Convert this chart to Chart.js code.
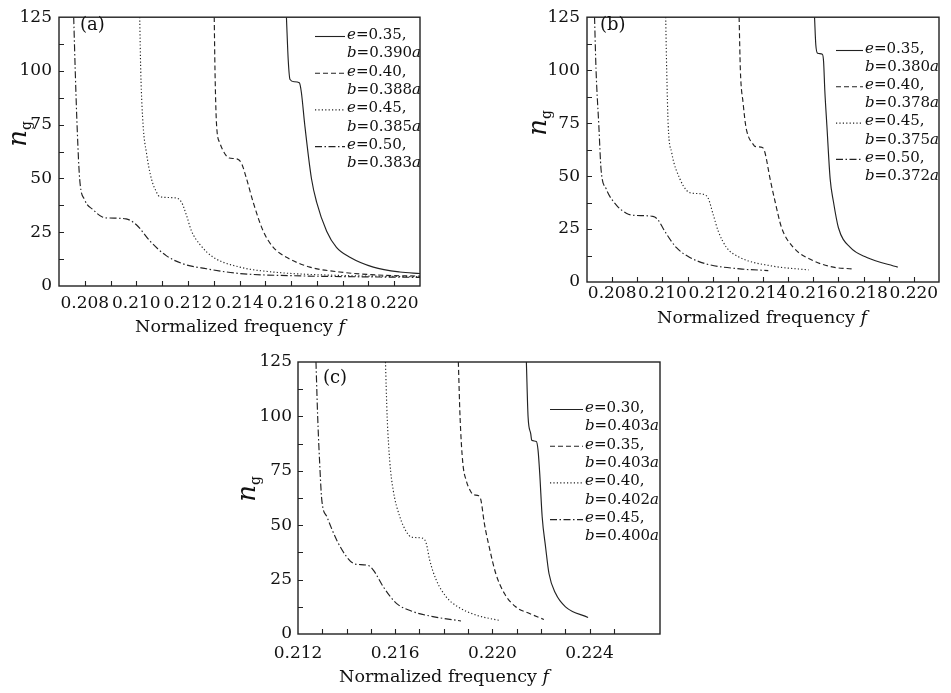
<!DOCTYPE html>
<html>
<head>
<meta charset="utf-8">
<script src="https://cdn.jsdelivr.net/npm/chart.js@4.4.0/dist/chart.umd.min.js"></script>
<style>
body { margin: 0; background: #fff; }
canvas { position: absolute; }
</style>
</head>
<body>
<canvas id="chartA" width="440" height="340" style="left:0;top:0"></canvas>
<canvas id="chartB" width="471" height="340" style="left:480px;top:0"></canvas>
<canvas id="chartC" width="480" height="353" style="left:220px;top:340px"></canvas>
<script>
// ---- panel (a) ----
var eA = ['0.35', '0.40', '0.45', '0.50'];
var bA = ['0.390', '0.388', '0.385', '0.383'];
var fA1 = [0.21582, 0.21589, 0.21596, 0.21612, 0.21632, 0.21640, 0.21653, 0.21679, 0.21699, 0.21738, 0.21776, 0.21828, 0.21919, 0.22022, 0.2210];
var ngA1 = [125, 105, 96, 95, 94.5, 90, 75, 50, 39, 25.5, 18, 13.4, 8.8, 6.5, 5.8];
var fA2 = [0.21302, 0.21305, 0.21311, 0.21324, 0.21349, 0.21360, 0.21392, 0.21408, 0.21427, 0.21453, 0.21492, 0.21531, 0.21582, 0.21673, 0.21789, 0.21957, 0.2210];
var ngA2 = [125, 100, 75, 66.5, 60.5, 59.5, 59, 57, 50, 39, 25.5, 18, 13.4, 8.8, 6.5, 5, 4.6];
var fA3 = [0.21013, 0.21017, 0.21026, 0.21039, 0.21058, 0.21078, 0.21091, 0.21150, 0.21175, 0.21194, 0.21214, 0.21246, 0.21298, 0.21401, 0.2153, 0.21763, 0.2210];
var ngA3 = [125, 100, 75, 62, 50, 43.7, 41.5, 41, 39, 33, 25.5, 19.4, 13.4, 8.8, 6.5, 5, 4.3];
var fA4 = [0.20757, 0.20763, 0.2077, 0.2078, 0.2080, 0.20832, 0.20870, 0.20897, 0.20960, 0.2100, 0.21052, 0.21117, 0.21181, 0.21272, 0.21401, 0.2160, 0.2185, 0.2210];
var ngA4 = [125, 100, 75, 50, 40, 35.5, 32, 31.6, 31.2, 28.5, 21, 14, 10.3, 8, 5.8, 4.8, 4.3, 4];

// ---- panel (b) ----
var eB = ['0.35', '0.40', '0.45', '0.50'];
var bB = ['0.380', '0.378', '0.375', '0.372'];
var fB1 = [0.21605, 0.21610, 0.21617, 0.21636, 0.21641, 0.21646, 0.21654, 0.21667, 0.2168, 0.2170, 0.21747, 0.21813, 0.21936];
var ngB1 = [125, 112, 108, 107.5, 104, 90, 74, 48.8, 38, 25.6, 16.3, 11.6, 7];
var fB2 = [0.21305, 0.2131, 0.21321, 0.21331, 0.21341, 0.21361, 0.21368, 0.21398, 0.21408, 0.21428, 0.21448, 0.21474, 0.21521, 0.21601, 0.2168, 0.21753];
var ngB2 = [125, 100, 84.4, 74, 69, 65, 64, 63.5, 61, 48.8, 38, 25.6, 16.3, 10, 7, 6.2];
var fB3 = [0.21013, 0.21017, 0.21023, 0.21037, 0.21069, 0.21095, 0.21115, 0.21159, 0.21182, 0.21202, 0.21222, 0.21255, 0.21308, 0.21428, 0.21581];
var ngB3 = [125, 100, 74, 61, 48.8, 43.4, 42, 41.5, 39.5, 31.8, 24, 16.3, 11.6, 7.7, 5.7];
var fB4 = [0.2073, 0.20736, 0.20747, 0.20756, 0.20776, 0.20816, 0.20856, 0.20882, 0.20962, 0.20982, 0.21009, 0.21055, 0.21109, 0.21175, 0.21308, 0.21421];
var ngB4 = [125, 100, 74, 53, 44, 36.4, 32.5, 31.5, 31, 29.4, 24, 16.3, 11.6, 8.5, 6.2, 5.4];

// ---- panel (c) ----
var eC = ['0.30', '0.35', '0.40', '0.45'];
var bC = ['0.403', '0.403', '0.402', '0.400'];
var fC1 = [0.2214, 0.22147, 0.22158, 0.22162, 0.22181, 0.22188, 0.22195, 0.22205, 0.22219, 0.22233, 0.2226, 0.22301, 0.22394];
var ngC1 = [125, 99.8, 92, 89, 88.5, 84.5, 73.7, 53.9, 40, 27.8, 18.7, 12.5, 7.6];
var fC2 = [0.2186, 0.21867, 0.21878, 0.21892, 0.21912, 0.21922, 0.21944, 0.21953, 0.21967, 0.21987, 0.22014, 0.22049, 0.22096, 0.22151, 0.22212];
var ngC2 = [125, 99.8, 79, 70.7, 65.3, 64, 63.5, 61.5, 50.8, 40, 27.8, 18.7, 12.5, 9.5, 6.7];
var fC3 = [0.2156, 0.21567, 0.21578, 0.21592, 0.21619, 0.21646, 0.21667, 0.21714, 0.21728, 0.21742, 0.21769, 0.2181, 0.21858, 0.21933, 0.22035];
var ngC3 = [125, 99.8, 79, 66, 53.9, 47, 44.5, 44, 41.6, 34, 24.8, 17.1, 12.5, 8.7, 6.1];
var fC4 = [0.21274, 0.21281, 0.21289, 0.21298, 0.21319, 0.2136, 0.2140, 0.21428, 0.21441, 0.21489, 0.2151, 0.21551, 0.21605, 0.21673, 0.21755, 0.21871];
var ngC4 = [125, 99.8, 79, 61.5, 53.9, 43, 35.5, 32.4, 32, 31.5, 29.4, 21.7, 14.1, 10.3, 8, 6];

var dashes = [[], [5, 3], [1.2, 2.2], [7, 2.5, 1.5, 2.5]];
var serif = '"DejaVu Serif", "Liberation Serif", serif';
var ink = '#111';
var lineInk = '#222';

// draw text made of upright / italic pieces
function drawRuns(ctx, runs, x, y, size, center) {
    var fonts = runs.map(function(r) { return (r[1] ? 'italic ' : '') + size + 'px ' + serif; });
    var total = 0;
    runs.forEach(function(r, i) { ctx.font = fonts[i]; total += ctx.measureText(r[0]).width; });
    var cx = center ? x - total / 2 : x;
    ctx.textBaseline = 'middle';
    ctx.textAlign = 'left';
    runs.forEach(function(r, i) {
        ctx.font = fonts[i];
        ctx.fillText(r[0], cx, y);
        cx += ctx.measureText(r[0]).width;
    });
}

function decor(p) {
    return {
        id: 'decor',
        afterDatasetsDraw: function(chart) {
            var ctx = chart.ctx, a = chart.chartArea;
            var xs = chart.scales.x, ys = chart.scales.y;
            ctx.save();
            ctx.strokeStyle = '#222';
            ctx.fillStyle = ink;
            ctx.lineWidth = 1.4;
            ctx.strokeRect(a.left, a.top, a.right - a.left, a.bottom - a.top);
            // inward ticks
            ctx.lineWidth = 1.1;
            ctx.beginPath();
            xs.ticks.forEach(function(t) {
                var px = Math.round(xs.getPixelForValue(t.value)) + 0.5;
                if (px < a.left + 2 || px > a.right - 2) return;
                ctx.moveTo(px, a.bottom);
                ctx.lineTo(px, a.bottom - 5);
            });
            ys.ticks.forEach(function(t) {
                var py = Math.round(ys.getPixelForValue(t.value)) + 0.5;
                if (py < a.top + 2 || py > a.bottom - 2) return;
                ctx.moveTo(a.left, py);
                ctx.lineTo(a.left + 5, py);
            });
            ctx.stroke();

            // panel tag
            drawRuns(ctx, [[p.tag, false]], p.tagX, p.tagY, 18, false);

            // x title
            drawRuns(ctx, [['Normalized frequency ', false], ['f', true]], p.titleX, p.titleY, 17.5, true);

            // y title n_g
            ctx.save();
            ctx.translate(p.ngX, p.ngY);
            ctx.rotate(-Math.PI / 2);
            ctx.textBaseline = 'alphabetic';
            ctx.font = 'italic 26px ' + serif;
            var wn = ctx.measureText('n').width;
            ctx.font = '14px ' + serif;
            var wg = ctx.measureText('g').width;
            ctx.font = 'italic 26px ' + serif;
            ctx.fillText('n', -(wn + wg) / 2, 0);
            ctx.font = '14px ' + serif;
            ctx.fillText('g', -(wn + wg) / 2 + wn, 5);
            ctx.restore();

            // legend
            p.eVals.forEach(function(ev, i) {
                var y0 = p.legY + i * p.legStep;
                ctx.strokeStyle = lineInk;
                ctx.lineWidth = 1.1;
                ctx.setLineDash(dashes[i]);
                ctx.beginPath();
                ctx.moveTo(p.legX, y0 + 1.5);
                ctx.lineTo(p.legX + p.legLen, y0 + 1.5);
                ctx.stroke();
                ctx.setLineDash([]);
                var tx = p.legX + p.legLen + 2;
                drawRuns(ctx, [['e', true], ['=' + ev + ',', false]], tx, y0, 15, false);
                drawRuns(ctx, [['b', true], ['=' + p.bVals[i], false], ['a', true]], tx, y0 + p.rowStep, 15, false);
            });
            ctx.restore();
        }
    };
}

function makePanel(p) {
    var datasets = p.series.map(function(s, i) {
        return {
            data: s[0].map(function(f, k) { return {x: f, y: s[1][k]}; }),
            borderColor: lineInk,
            borderWidth: 1.15,
            borderDash: dashes[i],
            pointRadius: 0,
            fill: false,
            cubicInterpolationMode: 'monotone'
        };
    });
    var tickFont = {family: serif, size: 17};
    new Chart(document.getElementById(p.id).getContext('2d'), {
        type: 'line',
        data: {datasets: datasets},
        options: {
            responsive: false,
            animation: false,
            layout: {padding: {left: 0, top: p.top, right: p.right, bottom: 0}},
            plugins: {legend: {display: false}, tooltip: {enabled: false}},
            scales: {
                x: {
                    type: 'linear', min: p.xMin, max: p.xMax,
                    grid: {display: false, drawTicks: false},
                    border: {display: false},
                    ticks: {
                        stepSize: 0.001, autoSkip: false, maxRotation: 0, padding: p.xPad,
                        font: tickFont, color: ink,
                        callback: function(v) {
                            var k = Math.round(v * 1000);
                            return k % p.labelEvery === 0 ? (k / 1000).toFixed(3) : '';
                        }
                    },
                    afterFit: function(s) { s.height = p.xh; }
                },
                y: {
                    min: 0, max: 125,
                    grid: {display: false, drawTicks: false},
                    border: {display: false},
                    ticks: {
                        stepSize: 12.5, autoSkip: false, padding: p.yPad,
                        font: tickFont, color: ink,
                        callback: function(v) { return v % 25 === 0 ? v : ''; }
                    },
                    afterFit: function(s) { s.width = p.yw; }
                }
            }
        },
        plugins: [decor(p)]
    });
}

makePanel({
    id: 'chartA', xMin: 0.207, xMax: 0.221, labelEvery: 2,
    top: 12, right: 20, yw: 59, xh: 54, xPad: 7, yPad: 7,
    series: [[fA1, ngA1], [fA2, ngA2], [fA3, ngA3], [fA4, ngA4]],
    eVals: eA, bVals: bA,
    tag: '(a)', tagX: 80, tagY: 25,
    legX: 315, legLen: 30, legY: 35, rowStep: 18.3, legStep: 36.7,
    titleX: 240, titleY: 327, ngX: 26, ngY: 134
});

makePanel({
    id: 'chartB', xMin: 0.207, xMax: 0.221, labelEvery: 2,
    top: 13, right: 12, yw: 107, xh: 58, xPad: 1, yPad: 7,
    series: [[fB1, ngB1], [fB2, ngB2], [fB3, ngB3], [fB4, ngB4]],
    eVals: eB, bVals: bB,
    tag: '(b)', tagX: 120, tagY: 25,
    legX: 356, legLen: 27, legY: 49, rowStep: 18.2, legStep: 36.3,
    titleX: 282, titleY: 318, ngX: 66, ngY: 123
});

makePanel({
    id: 'chartC', xMin: 0.212, xMax: 0.2269, labelEvery: 4,
    top: 22, right: 40, yw: 78, xh: 59, xPad: 9, yPad: 6,
    series: [[fC1, ngC1], [fC2, ngC2], [fC3, ngC3], [fC4, ngC4]],
    eVals: eC, bVals: bC,
    tag: '(c)', tagX: 103, tagY: 38,
    legX: 330, legLen: 33, legY: 68, rowStep: 18.5, legStep: 36.7,
    titleX: 224, titleY: 337, ngX: 35, ngY: 149
});
</script>
</body>
</html>
